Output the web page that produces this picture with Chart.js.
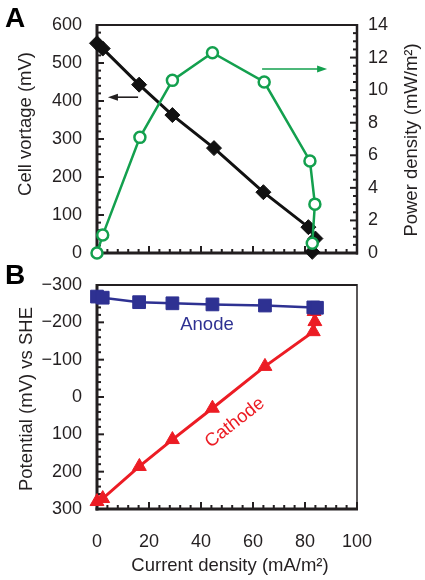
<!DOCTYPE html>
<html>
<head>
<meta charset="utf-8">
<script src="https://cdn.jsdelivr.net/npm/chart.js@4"></script>
<style>
  body { margin: 0; background: #fff; width: 425px; height: 580px; overflow: hidden; }
  canvas { position: absolute; left: 0; }
  #chartA { top: 0; }
  #chartB { top: 258px; }
</style>
</head>
<body>
<canvas id="chartA" width="425" height="270"></canvas>
<canvas id="chartB" width="425" height="322"></canvas>
<script>
/******************************************************************************
* Data
******************************************************************************/
// Panel A: polarisation and power curves
var voltX  = [0, 2.2, 16.2, 29, 45, 64, 81.3, 84, 82.8];
var voltY  = [552, 538, 443, 363, 276, 160, 68, 38, 3];
var powerX = [0, 2.2, 16.5, 29, 44.4, 64.3, 81.9, 83.8, 82.8];
var powerY = [0, 1.1, 7.1, 10.6, 12.3, 10.5, 5.65, 3.0, 0.6];

// Panel B: electrode potentials
var anodeX   = [0, 2.2, 16.2, 29, 44.4, 64.6, 83.2, 84.6];
var anodeY   = [-269, -266, -254, -251, -248, -245, -240, -239];
var cathodeX = [0, 2.2, 16.3, 29, 44.4, 64.6, 83.2, 83.8, 83.5];
var cathodeY = [280, 272, 186, 114, 30, -82, -175, -202, -229];

var FONT = '"Liberation Sans", Arial, sans-serif';
var INK = '#231f20';
var GREEN = '#13a04e';
var BLUE = '#2e3192';
var RED = '#ec1c24';

function toPoints(xs, ys) {
    var pts = [];
    for (var i = 0; i < xs.length; i++) {
        pts.push({ x: xs[i], y: ys[i] });
    }
    return pts;
}

// fixed axis width, and no label overflow padding so the plot box stays put
function fixWidth(w) {
    return function(scale) {
        scale.width = w;
        scale.paddingTop = 0;
        scale.paddingBottom = 0;
    };
}

/******************************************************************************
* Inward tick marks along an axis
******************************************************************************/
function drawTicks(ctx, scale, area, side, minor, major, from, to) {
    ctx.save();
    ctx.strokeStyle = INK;
    ctx.lineWidth = 2;
    for (var v = from; v <= to + 1e-9; v += minor) {
        var isMajor = Math.abs(v / major - Math.round(v / major)) < 1e-6;
        var len = isMajor ? 7 : 4;
        var p = scale.getPixelForValue(v);
        ctx.beginPath();
        if (side == 'left')   { ctx.moveTo(area.left, p);   ctx.lineTo(area.left + len, p); }
        if (side == 'right')  { ctx.moveTo(area.right, p);  ctx.lineTo(area.right - len, p); }
        if (side == 'bottom') { ctx.moveTo(p, area.bottom); ctx.lineTo(p, area.bottom - len); }
        ctx.stroke();
    }
    ctx.restore();
}

function drawLine(ctx, x1, y1, x2, y2, width, color) {
    ctx.save();
    ctx.strokeStyle = color;
    ctx.lineWidth = width;
    ctx.beginPath();
    ctx.moveTo(x1, y1);
    ctx.lineTo(x2, y2);
    ctx.stroke();
    ctx.restore();
}

function drawArrow(ctx, x1, y, x2, color) {
    var dir = x2 > x1 ? 1 : -1;
    drawLine(ctx, x1, y, x2 - dir * 6, y, 1.6, color);
    ctx.save();
    ctx.fillStyle = color;
    ctx.beginPath();
    ctx.moveTo(x2, y);
    ctx.lineTo(x2 - dir * 10, y - 3.5);
    ctx.lineTo(x2 - dir * 10, y + 3.5);
    ctx.closePath();
    ctx.fill();
    ctx.restore();
}

function drawText(ctx, text, x, y, opts) {
    ctx.save();
    ctx.translate(x, y);
    ctx.rotate(opts.rotate || 0);
    ctx.font = opts.font;
    ctx.fillStyle = opts.color || INK;
    ctx.textAlign = opts.align || 'center';
    ctx.textBaseline = opts.baseline || 'middle';
    ctx.fillText(text, 0, 0);
    ctx.restore();
}

/******************************************************************************
* Frames, ticks, titles and labels for panel A
******************************************************************************/
var decorA = {
    id: 'decorA',
    beforeDatasetsDraw: function(chart) {
        var ctx = chart.ctx, a = chart.chartArea, s = chart.scales;
        drawLine(ctx, a.left, a.top, a.right, a.top, 2, INK);
        drawLine(ctx, a.right, a.top - 1, a.right, a.bottom + 1.5, 2.5, INK);
        drawLine(ctx, a.left, a.top - 1, a.left, a.bottom + 1.5, 3, INK);
        drawLine(ctx, a.left - 1.5, a.bottom, a.right + 1, a.bottom, 3, INK);
        drawTicks(ctx, s.y, a, 'left', 20, 100, 0, 600);
        drawTicks(ctx, s.y1, a, 'right', 0.5, 2, 0, 14);
        drawTicks(ctx, s.x, a, 'bottom', 4, 20, 0, 100);
    },
    afterDatasetsDraw: function(chart) {
        var ctx = chart.ctx, s = chart.scales;
        drawArrow(ctx, s.x.getPixelForValue(15.8), s.y.getPixelForValue(410),
                  s.x.getPixelForValue(4.2), INK);
        drawArrow(ctx, s.x.getPixelForValue(63.5), s.y1.getPixelForValue(11.3),
                  s.x.getPixelForValue(88.5), GREEN);
        drawText(ctx, 'A', 5, 27, { font: 'bold 28px ' + FONT, align: 'left', baseline: 'alphabetic', color: '#000' });
        drawText(ctx, 'Cell vortage (mV)', 26, 124, { font: '18.5px ' + FONT, rotate: -Math.PI / 2 });
        drawText(ctx, 'Power density (mW/m²)', 412, 140, { font: '18.5px ' + FONT, rotate: -Math.PI / 2 });
    }
};

/******************************************************************************
* Frames, ticks, titles and labels for panel B
******************************************************************************/
var decorB = {
    id: 'decorB',
    beforeDatasetsDraw: function(chart) {
        var ctx = chart.ctx, a = chart.chartArea, s = chart.scales;
        drawLine(ctx, a.left, a.top, a.right, a.top, 2, INK);
        drawLine(ctx, a.right, a.top - 1, a.right, a.bottom, 1.5, INK);
        drawLine(ctx, a.left, a.top - 1, a.left, a.bottom + 1.5, 3, INK);
        drawLine(ctx, a.left - 1.5, a.bottom, a.right + 1, a.bottom, 3, INK);
        drawTicks(ctx, s.y, a, 'left', 20, 100, -300, 300);
        drawTicks(ctx, s.x, a, 'bottom', 4, 20, 0, 100);
    },
    afterDatasetsDraw: function(chart) {
        var ctx = chart.ctx, s = chart.scales;
        drawText(ctx, 'B', 5, 26, { font: 'bold 28px ' + FONT, align: 'left', baseline: 'alphabetic', color: '#000' });
        drawText(ctx, 'Potential (mV) vs SHE', 27, 141, { font: '18.5px ' + FONT, rotate: -Math.PI / 2 });
        drawText(ctx, 'Current density (mA/m²)', 230, 308, { font: '18.5px ' + FONT });
        drawText(ctx, 'Anode', s.x.getPixelForValue(42.3), s.y.getPixelForValue(-193),
                 { font: '18.5px ' + FONT, color: BLUE });
        drawText(ctx, 'Cathode', s.x.getPixelForValue(53), s.y.getPixelForValue(69),
                 { font: '18.5px ' + FONT, color: RED, rotate: -38 * Math.PI / 180 });
    }
};

function tickFont() {
    return { family: FONT, size: 18 };
}

/******************************************************************************
* Panel A
******************************************************************************/
new Chart(document.getElementById('chartA').getContext('2d'), {
    type: 'scatter',
    data: {
        datasets: [{
            label: 'Power density',
            data: toPoints(powerX, powerY),
            yAxisID: 'y1',
            showLine: true,
            clip: false,
            borderColor: GREEN,
            borderWidth: 2.5,
            pointStyle: 'circle',
            pointRadius: 5.5,
            pointBorderWidth: 2.5,
            pointBackgroundColor: '#fff',
            pointBorderColor: GREEN
        }, {
            label: 'Cell voltage',
            data: toPoints(voltX, voltY),
            yAxisID: 'y',
            showLine: true,
            clip: false,
            borderColor: '#111',
            borderWidth: 3,
            pointStyle: 'rectRot',
            pointRadius: 7.5,
            pointBorderWidth: 1,
            pointBackgroundColor: '#111',
            pointBorderColor: '#111'
        }]
    },
    options: {
        responsive: false,
        animation: false,
        layout: { padding: { top: 25, left: 0, right: 0, bottom: 0 } },
        plugins: { legend: { display: false }, tooltip: { enabled: false } },
        scales: {
            x: {
                type: 'linear', min: 0, max: 100,
                grid: { display: false, drawTicks: false },
                border: { display: false },
                ticks: { display: false },
                afterFit: function(scale) { scale.height = 17; }
            },
            y: {
                position: 'left', min: 0, max: 600,
                grid: { display: false, drawTicks: false },
                border: { display: false },
                ticks: { stepSize: 100, padding: 15, color: INK, font: tickFont() },
                afterFit: fixWidth(97)
            },
            y1: {
                position: 'right', min: 0, max: 14,
                grid: { display: false, drawTicks: false },
                border: { display: false },
                ticks: { stepSize: 2, padding: 11, color: INK, font: tickFont() },
                afterFit: fixWidth(68)
            }
        }
    },
    plugins: [decorA]
});

/******************************************************************************
* Panel B
******************************************************************************/
new Chart(document.getElementById('chartB').getContext('2d'), {
    type: 'scatter',
    data: {
        datasets: [{
            label: 'Anode',
            data: toPoints(anodeX, anodeY),
            showLine: true,
            clip: false,
            borderColor: BLUE,
            borderWidth: 2.5,
            pointStyle: 'rect',
            pointRadius: 9,
            pointBorderWidth: 1,
            pointBackgroundColor: BLUE,
            pointBorderColor: BLUE
        }, {
            label: 'Cathode',
            data: toPoints(cathodeX, cathodeY),
            showLine: true,
            clip: false,
            borderColor: RED,
            borderWidth: 3,
            pointStyle: 'triangle',
            pointRadius: 8,
            pointBorderWidth: 1,
            pointBackgroundColor: RED,
            pointBorderColor: RED
        }]
    },
    options: {
        responsive: false,
        animation: false,
        layout: { padding: { top: 27, left: 0, right: 68, bottom: 0 } },
        plugins: { legend: { display: false }, tooltip: { enabled: false } },
        scales: {
            x: {
                type: 'linear', min: 0, max: 100,
                grid: { display: false, drawTicks: false },
                border: { display: false },
                ticks: { stepSize: 20, padding: 22, color: INK, font: tickFont(), maxRotation: 0 },
                afterFit: function(scale) { scale.height = 71; }
            },
            y: {
                position: 'left', min: -300, max: 300, reverse: true,
                grid: { display: false, drawTicks: false },
                border: { display: false },
                ticks: {
                    stepSize: 100, padding: 15, color: INK, font: tickFont(),
                    callback: function(v) { return v < 0 ? '\u2212' + Math.abs(v) : String(v); }
                },
                afterFit: fixWidth(97)
            }
        }
    },
    plugins: [decorB]
});
</script>
</body>
</html>
